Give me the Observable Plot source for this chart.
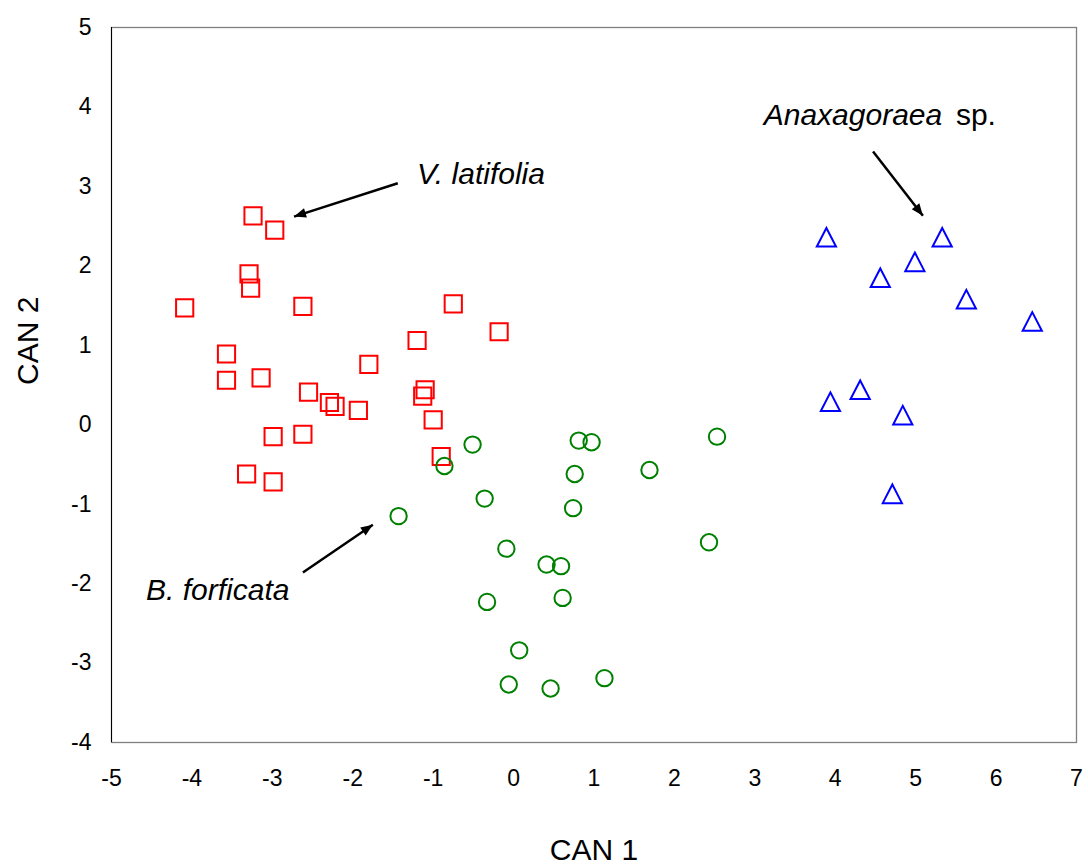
<!DOCTYPE html>
<html>
<head>
<meta charset="utf-8">
<script src="https://cdn.jsdelivr.net/npm/d3@7"></script>
<script src="https://cdn.jsdelivr.net/npm/@observablehq/plot@0.6"></script>
<style>
  html, body { margin: 0; padding: 0; background: #fff; }
  #chart svg { display: block; }
</style>
</head>
<body>
<div id="chart"></div>
<script>
// ---- Data ----
const xTicks = [-5, -4, -3, -2, -1, 0, 1, 2, 3, 4, 5, 6, 7];
const yTicks = [-4, -3, -2, -1, 0, 1, 2, 3, 4, 5];

// V. latifolia (squares)
const latifoliaX = [-3.24, -2.97, -3.29, -3.27, -4.09, -2.62, -0.75, -0.18, -1.20, -3.57, -1.80, -3.57, -3.14, -2.55, -1.10, -1.13, -2.29, -2.22, -1.93, -1.00, -2.99, -2.62, -0.90, -3.32, -2.99];
const latifoliaY = [2.63, 2.45, 1.90, 1.72, 1.47, 1.49, 1.52, 1.17, 1.06, 0.89, 0.76, 0.56, 0.59, 0.41, 0.44, 0.36, 0.28, 0.23, 0.18, 0.06, -0.15, -0.12, -0.40, -0.62, -0.72];

// B. forficata (circles)
const forficataX = [-0.51, -0.86, 0.81, 0.97, 2.53, 0.76, 1.69, -0.36, 0.74, -1.43, -0.09, 2.43, 0.41, 0.59, 0.61, -0.33, 0.07, -0.06, 0.46, 1.13];
const forficataY = [-0.25, -0.52, -0.20, -0.22, -0.15, -0.62, -0.57, -0.93, -1.05, -1.15, -1.56, -1.48, -1.76, -1.78, -2.18, -2.23, -2.84, -3.27, -3.32, -3.19];

// Anaxagoraea sp. (triangles)
const anaxX = [3.89, 5.33, 4.99, 4.56, 5.63, 6.45, 4.31, 3.94, 4.84, 4.71];
const anaxY = [2.36, 2.36, 2.05, 1.85, 1.58, 1.30, 0.44, 0.29, 0.12, -0.87];

// Annotation labels and arrows (data coordinates)
const labelText   = ["V. latifolia", "Anaxagoraea", "sp.", "B. forficata"];
const labelX      = [-1.20, 5.33, 5.50, -4.57];
const labelY      = [3.03, 3.77, 3.77, -2.21];
const labelAnchor = ["start", "end", "start", "start"];
const labelStyle  = ["italic", "italic", "normal", "italic"];

const arrowX1 = [-1.44, 4.47, -2.62];
const arrowY1 = [3.04, 3.44, -1.86];
const arrowX2 = [-2.73, 5.09, -1.75];
const arrowY2 = [2.62, 2.63, -1.26];

// ---- Layout ----
const W = 1088, H = 864;
const mL = 111, mR = 12, mT = 27, mB = 122;
const xDomain = [-5, 7], yDomain = [-4, 5];
const kx = (W - mL - mR) / (xDomain[1] - xDomain[0]);
const ky = (H - mT - mB) / (yDomain[1] - yDomain[0]);
const FONT = "'Liberation Sans', Arial, Helvetica, sans-serif";

const zip = (xs, ys) => xs.map((x, i) => ({x, y: ys[i]}));
const latifolia = zip(latifoliaX, latifoliaY);
const forficata = zip(forficataX, forficataY);
const anax = zip(anaxX, anaxY);
const labels = labelText.map((t, i) => ({t, x: labelX[i], y: labelY[i], a: labelAnchor[i], s: labelStyle[i]}));
const arrows = arrowX1.map((x1, i) => {
  const x2 = arrowX2[i], y2 = arrowY2[i], y1 = arrowY1[i];
  const ang = Math.atan2(-(y2 - y1) * ky, (x2 - x1) * kx) * 180 / Math.PI;
  return {x1, y1, x2, y2, ang};
});

// Custom marker shapes
const squareSym = {draw(ctx) { const h = 8.6; ctx.rect(-h, -h, 2 * h, 2 * h); }};
const triSym = {draw(ctx) { const w = 9.6, h = 9.3; ctx.moveTo(0, -h); ctx.lineTo(w, h); ctx.lineTo(-w, h); ctx.closePath(); }};
const headSym = {draw(ctx) { ctx.moveTo(0, 0); ctx.lineTo(-12, -4.8); ctx.lineTo(-12, 4.8); ctx.closePath(); }};

const labelMarks = [];
for (const a of ["start", "end"]) {
  for (const s of ["italic", "normal"]) {
    const sub = labels.filter(d => d.a === a && d.s === s);
    if (sub.length) labelMarks.push(Plot.text(sub, {x: "x", y: "y", text: "t", textAnchor: a, lineAnchor: "bottom", fontSize: 30, fontStyle: s, fill: "#000"}));
  }
}

const chart = Plot.plot({
  width: W, height: H,
  marginLeft: mL, marginRight: mR, marginTop: mT, marginBottom: mB,
  style: {fontFamily: FONT, fontSize: "23px", background: "#fff", color: "#000"},
  x: {domain: xDomain},
  y: {domain: yDomain},
  marks: [
    Plot.frame({stroke: "#7f7f7f", strokeWidth: 1.3}),
    Plot.ruleX([xDomain[0]], {stroke: "#000", strokeWidth: 1}),
    Plot.axisX(xTicks, {tickSize: 0, tickPadding: 27, fontSize: 23, tickFormat: d => String(d), label: null}),
    Plot.axisY(yTicks, {tickSize: 0, tickPadding: 20, fontSize: 23, tickFormat: d => String(d), label: null}),
    Plot.text(["CAN 1"], {frameAnchor: "bottom", dy: 117, lineAnchor: "bottom", fontSize: 30, fill: "#000"}),
    Plot.text(["CAN 2"], {frameAnchor: "left", dx: -74, rotate: -90, lineAnchor: "bottom", fontSize: 30, fill: "#000"}),
    Plot.dot(latifolia, {x: "x", y: "y", symbol: squareSym, r: 9, fill: "none", stroke: "#ff0000", strokeWidth: 2}),
    Plot.dot(forficata, {x: "x", y: "y", r: 8.2, fill: "none", stroke: "#008000", strokeWidth: 2}),
    Plot.dot(anax, {x: "x", y: "y", symbol: triSym, r: 9, fill: "none", stroke: "#0000ff", strokeWidth: 2}),
    Plot.link(arrows, {x1: "x1", y1: "y1", x2: "x2", y2: "y2", stroke: "#000", strokeWidth: 2.5}),
    Plot.dot(arrows, {x: "x2", y: "y2", symbol: headSym, r: 5, rotate: "ang", fill: "#000", stroke: "none"}),
    ...labelMarks
  ]
});
document.getElementById("chart").append(chart);
</script>
</body>
</html>
